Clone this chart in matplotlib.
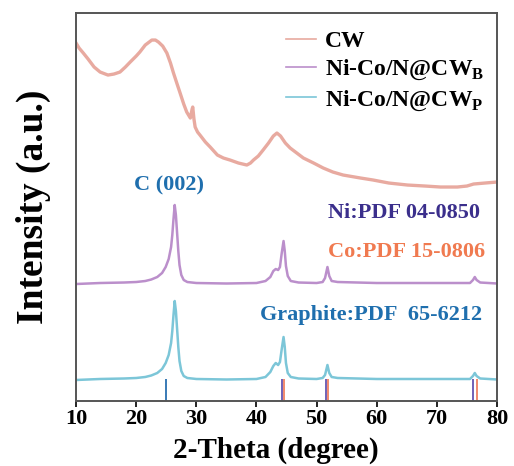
import matplotlib
matplotlib.use('Agg')
import matplotlib.pyplot as plt

## 字体: Times 风格粗体
plt.rcParams['font.family'] = ['Liberation Serif', 'DejaVu Serif']
plt.rcParams['font.weight'] = 'bold'
plt.rcParams['axes.labelweight'] = 'bold'
plt.rcParams['mathtext.fontset'] = 'custom'
plt.rcParams['mathtext.rm'] = 'Liberation Serif:bold'
plt.rcParams['mathtext.bf'] = 'Liberation Serif:bold'

## 数据 (从图中读取, 纵轴为任意单位)
cw_x = [10, 10.5, 11.2, 12, 13, 14, 15.3, 16.3, 17.3, 18.2, 19, 20, 20.6, 21.5, 22.6, 23.2,
        23.7, 24.4, 25.1, 25.7, 26.2, 26.8, 27.3, 27.9, 28.4, 29.0, 29.3, 29.4, 29.6, 29.8,
        30.2, 30.6, 31.5, 32.3, 33.5, 34.5, 35.6, 37, 38.4, 39.0, 39.5, 40.3, 41.1, 42.0,
        42.8, 43.4, 44.0, 44.8, 45.6, 46.7, 47.8, 49.5, 51.1, 52.7, 54.4, 57.3, 59.4, 62,
        65.1, 68, 70.6, 73.4, 75, 76.1, 78, 80]
cw_y = [358, 353, 348, 342, 334, 329, 326, 327, 329, 334, 339, 345, 349, 356, 361, 361,
        359, 355, 348, 338, 328, 317, 308, 297, 289, 283, 292, 294, 282, 274,
        269, 266, 259, 254, 246, 243, 241, 238, 236, 238, 241, 245, 251, 258,
        265, 268, 265, 258, 253, 248, 243, 238, 233, 229, 226, 223, 221, 218,
        216, 215, 214, 214, 215, 217, 218, 219]

b_x = [10, 14, 18, 20, 21.5, 22.5, 23.5, 24.3, 24.9, 25.4, 25.8, 26.0, 26.2, 26.4, 26.6,
       26.8, 27.0, 27.2, 27.5, 27.9, 28.5, 30, 35, 40, 41.5, 42.3, 42.8, 43.2, 43.6, 43.9,
       44.2, 44.5, 44.7, 44.9, 45.2, 45.7, 47, 50, 51.0, 51.4, 51.8, 52.1, 52.5, 53.5,
       60, 70, 75.5, 76.0, 76.3, 76.6, 77.2, 80]
b_y = [117, 118, 118.5, 119, 120, 121.5, 124, 128, 134, 142, 154, 166, 182, 196, 186,
       168, 150, 136, 126, 121, 119, 118, 117.5, 118, 120, 124, 130, 132, 131, 134,
       148, 160, 150, 135, 125, 120, 118.5, 118, 119, 123, 134, 125, 120, 119,
       118, 118, 118, 121, 124, 121, 118.5, 117.5]

p_x = [10, 14, 18, 20, 21.5, 22.5, 23.5, 24.3, 24.9, 25.4, 25.8, 26.0, 26.2, 26.4, 26.6,
       26.8, 27.0, 27.2, 27.5, 27.9, 28.5, 30, 35, 40, 41.5, 42.3, 42.8, 43.2, 43.6, 43.9,
       44.2, 44.5, 44.7, 44.9, 45.2, 45.7, 47, 50, 51.0, 51.4, 51.8, 52.1, 52.5, 53.5,
       60, 70, 75.5, 76.0, 76.3, 76.6, 77.2, 80]
p_y = [21, 22, 22.5, 23, 24, 25.5, 28, 32, 38, 46, 58, 70, 86, 100, 90,
       72, 54, 40, 30, 25, 23, 22, 21.5, 22, 24, 29, 35, 38, 36, 39,
       52, 64, 54, 38, 28, 24, 22.5, 22, 23, 26, 36, 28, 24, 23,
       22, 22, 22, 25, 28, 25, 22.5, 21.5]

graphite_pos = [25.0]
ni_pos = [44.3, 51.6, 76.0]
co_pos = [44.6, 51.9, 76.6]

c_cw = '#e8aaa0'
c_b = '#bb8fcb'
c_p = '#7cc6d8'

fig = plt.figure(figsize=(5.14, 4.66), dpi=100)
ax = fig.add_axes([0.148, 0.1395, 0.819, 0.8325])

ax.plot(cw_x, cw_y, color=c_cw, lw=2.4, label='CW')
ax.plot(b_x, b_y, color=c_b, lw=1.8, label=r'Ni-Co/N@CW$_{\mathbf{B}}$')
ax.plot(p_x, p_y, color=c_p, lw=1.8, label=r'Ni-Co/N@CW$_{\mathbf{P}}$')

ax.vlines(graphite_pos, 0, 22, color='#2a6fb0', lw=1.3)
ax.vlines(ni_pos, 0, 22, color='#6655b0', lw=1.3)
ax.vlines(co_pos, 0, 22, color='#f08060', lw=1.3)

ax.text(25.5, 216, 'C (002)', color='#1f6fae', fontsize=16, ha='center', va='center')
ax.text(51.9, 188, 'Ni:PDF 04-0850', color='#3b2f8c', fontsize=16, ha='left', va='center')
ax.text(51.9, 149, 'Co:PDF 15-0806', color='#f07a50', fontsize=16, ha='left', va='center')
ax.text(77.5, 86, 'Graphite:PDF  65-6212', color='#1f6fae', fontsize=16, ha='right', va='center')

ax.set_xlim(10, 80)
ax.set_ylim(0, 388)
ax.set_xticks([10, 20, 30, 40, 50, 60, 70, 80])
ax.set_yticks([])
ax.tick_params(axis='x', direction='out', length=4, width=1.2, labelsize=16, pad=2)
for s in ax.spines.values():
    s.set_color('#555555')
    s.set_linewidth(1.4)

ax.set_xlabel('2-Theta (degree)', fontsize=21)
ax.xaxis.set_label_coords(0.475, -0.093)
ax.set_ylabel('Intensity (a.u.)', fontsize=27, labelpad=18)

leg = ax.legend(loc='upper left', bbox_to_anchor=(0.47, 0.985), frameon=False, fontsize=17,
                handlelength=1.3, handletextpad=0.35, labelspacing=0.25, borderpad=0)
for ln in leg.get_lines():
    ln.set_linewidth(1.2)

plt.savefig('out.png', dpi=100)
